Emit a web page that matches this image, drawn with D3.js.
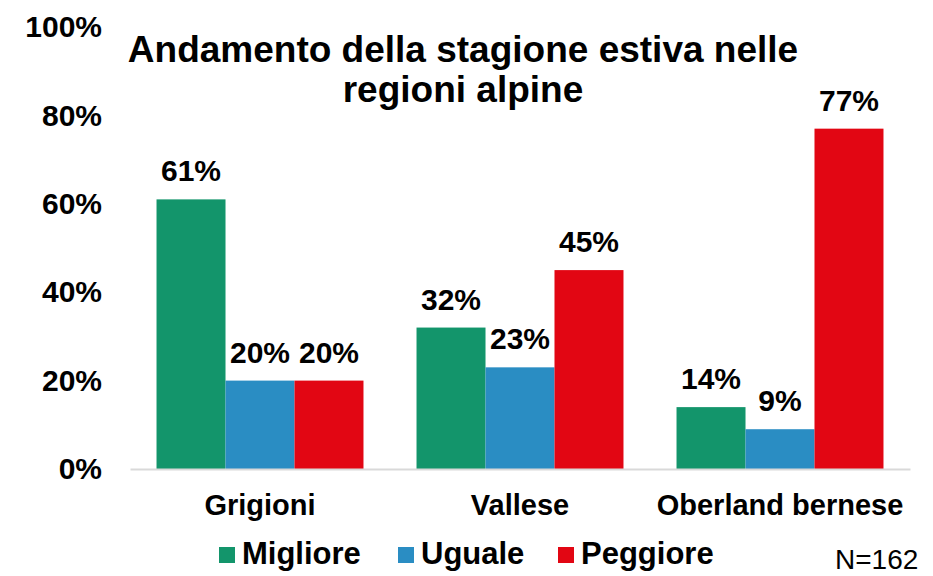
<!doctype html>
<html lang="it">
<head>
 <meta charset="utf-8">
 <title>Andamento della stagione estiva</title>
 <style>
 body{margin:0;background:#fff;}
 svg{display:block;}
 text{font-family:"Liberation Sans",Arial,sans-serif;fill:#000;}
 </style>
 <script src="https://cdnjs.cloudflare.com/ajax/libs/d3/7.8.5/d3.min.js"></script>
</head>
<body>
 <svg width="933" height="576"></svg>
 <script>

 const regions=["Grigioni","Vallese","Oberland bernese"];
 const seriesNames=["Migliore","Uguale","Peggiore"];
 const migliore=[61,32,14];
 const uguale=[20,23,9];
 const peggiore=[20,45,77];
 const yTicks=[0,20,40,60,80,100];
 const colors=["#13956b","#2a8dc3","#e20613"];

 const svgwid=933;
 const svghei=576;

 const margin={
 top:27,
 left:130,
 bottom:107,
 right:23
 }

 const width=svgwid-(margin.left+margin.right);
 const height=svghei-(margin.top+margin.bottom);

 const svg=d3.select("svg");

 const xScale=d3.scaleBand()
 .domain(regions)
 .range([0,width])
 .paddingInner(0.204)
 .paddingOuter(0.102);

 const xSub=d3.scaleBand()
 .domain(seriesNames)
 .range([0,xScale.bandwidth()]);

 const yScale=d3.scaleLinear()
 .domain([0,100])
 .range([height,0]);

 const values=[migliore,uguale,peggiore];
 const table=[];
 regions.forEach((r,i)=>{
 seriesNames.forEach((s,j)=>{
 table.push({region:r,series:s,value:values[j][i],idx:j});
 });
 });

 const g=svg.append("g")
 .attr("transform",`translate(${margin.left},${margin.top})`);

 // y axis labels only
 const yAxis=d3.axisLeft(yScale)
 .tickValues(yTicks)
 .tickFormat(d=>d+"%")
 .tickSize(0)
 .tickPadding(28);

 g.append("g")
 .attr("class","yAxis")
 .call(yAxis)
 .call(a=>a.select(".domain").remove())
 .selectAll("text")
 .style("font-size","30px")
 .style("font-weight","bold")
 .style("font-family","'Liberation Sans',Arial,sans-serif")
 .attr("fill","#000");

 // bars
 g.append("g")
 .selectAll("rect")
 .data(table)
 .enter()
 .append("rect")
 .attr("x",d=>xScale(d.region)+xSub(d.series))
 .attr("y",d=>yScale(d.value))
 .attr("width",xSub.bandwidth())
 .attr("height",d=>height-yScale(d.value))
 .attr("fill",d=>colors[d.idx]);

 // value labels
 g.append("g")
 .selectAll("text")
 .data(table)
 .enter()
 .append("text")
 .attr("x",d=>xScale(d.region)+xSub(d.series)+xSub.bandwidth()/2)
 .attr("y",d=>yScale(d.value)-18)
 .attr("text-anchor","middle")
 .style("font-size","30px")
 .style("font-weight","bold")
 .text(d=>d.value+"%");

 // x axis
 const xAxis=d3.axisBottom(xScale).tickSize(0).tickPadding(25);
 g.append("g")
 .attr("class","xAxis")
 .attr("transform",`translate(0,${height})`)
 .call(xAxis)
 .call(a=>a.select(".domain").attr("stroke","#d9d9d9").attr("stroke-width",2))
 .selectAll("text")
 .style("font-size","29px")
 .style("font-weight","bold")
 .style("font-family","'Liberation Sans',Arial,sans-serif")
 .attr("fill","#000");

 // title
 const title=svg.append("text")
 .attr("x",463)
 .attr("y",62)
 .attr("text-anchor","middle")
 .style("font-size","37px")
 .style("font-weight","bold");
 title.append("tspan").attr("x",463).attr("y",62).text("Andamento della stagione estiva nelle");
 title.append("tspan").attr("x",463).attr("y",102).text("regioni alpine");

 // legend
 const legendX=[219,398,558];
 const legend=svg.append("g").attr("class","legend");
 seriesNames.forEach((s,i)=>{
 legend.append("rect")
 .attr("x",legendX[i])
 .attr("y",547)
 .attr("width",16)
 .attr("height",16)
 .attr("fill",colors[i]);
 legend.append("text")
 .attr("x",legendX[i]+23)
 .attr("y",564)
 .style("font-size","31px")
 .style("font-weight","bold")
 .text(s);
 });

 svg.append("text")
 .attr("x",835)
 .attr("y",569)
 .style("font-size","28px")
 .text("N=162");

 </script>
</body>
</html>
